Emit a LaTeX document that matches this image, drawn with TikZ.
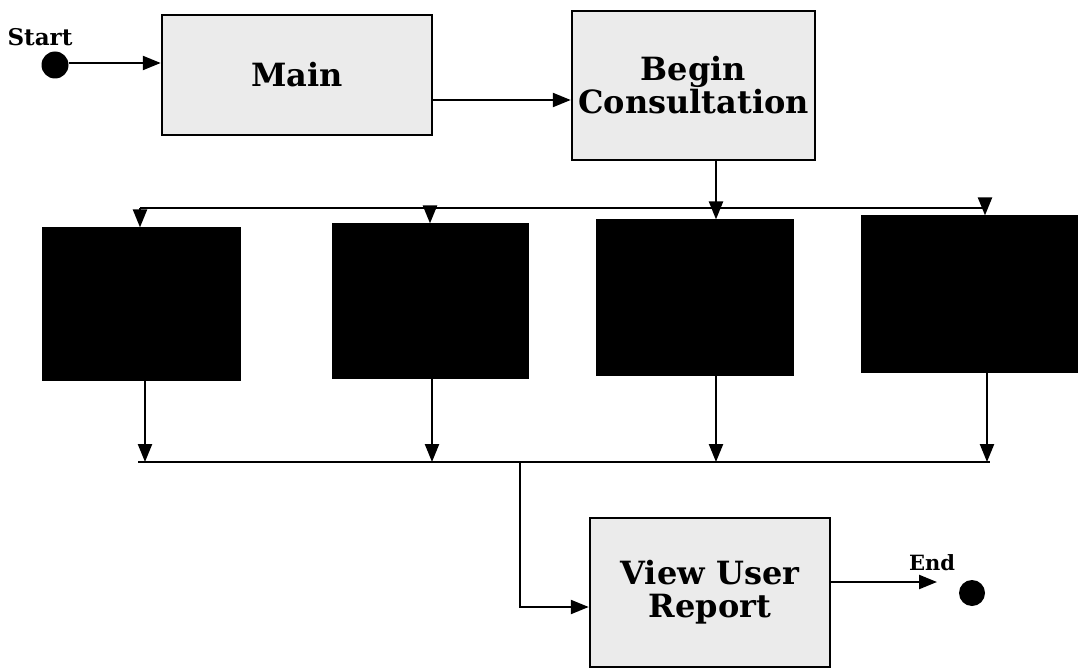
\documentclass[tikz,border=0pt]{standalone}
\usepackage{fontspec}
\setmainfont{DejaVu Serif}
\usetikzlibrary{arrows.meta,calc}
\begin{document}
\begin{tikzpicture}[x=1pt,y=-1pt,
  gbox/.style={draw=black,line width=2.5pt,fill=gray!16,align=center,inner sep=0pt,
     font=\bfseries\fontsize{32}{33}\selectfont},
  kbox/.style={draw=black,line width=1.2pt,fill=black,inner sep=0pt},
  conn/.style={line width=2.3pt,draw=black},
  arr/.style={conn,-{Triangle[length=18pt,width=14pt]}},
  lbl/.style={font=\bfseries\fontsize{23}{26}\selectfont,inner sep=0pt},
  dot/.style={circle,fill=black,inner sep=0pt,minimum size=27pt}]
\useasboundingbox (0,0) rectangle (1080,669);
% top boxes
\node[gbox,minimum width=270pt,minimum height=120pt] (main) at (297,75) {Main};
\node[gbox,minimum width=243pt,minimum height=149pt] (begin) at (693.5,85.5) {Begin\\Consultation};
% black boxes
\node[kbox,minimum width=197pt,minimum height=152pt] (b1) at (141.5,304) {};
\node[kbox,minimum width=195pt,minimum height=154pt] (b2) at (430.5,301) {};
\node[kbox,minimum width=196pt,minimum height=155pt] (b3) at (695,297.5) {};
\node[kbox,minimum width=215pt,minimum height=156pt] (b4) at (969.5,294) {};
% report
\node[gbox,minimum width=240pt,minimum height=149pt] (report) at (710,592.5) {View User\\Report};
% start / end
\node[dot] (sdot) at (55,65) {};
\node[lbl] (slbl) at (40,37) {Start};
\node[dot,minimum size=26pt] (edot) at (972,593) {};
\node[lbl,font=\bfseries\fontsize{21}{24}\selectfont] (elbl) at (932,563) {End};
% coordinates
\coordinate (sa) at (68,63);
\coordinate (ma) at (432,100);
\coordinate (jt) at (716,208);
\coordinate (tl) at (140,208);
\coordinate (t2) at (430,208);
\coordinate (tr) at (985,208);
\coordinate (u1) at (145,462);
\coordinate (u2) at (432,462);
\coordinate (u3) at (716,462);
\coordinate (u4) at (987,462);
\coordinate (ul) at (138,462);
\coordinate (ur) at (990,462);
\coordinate (jb) at (520,462);
\coordinate (rb) at (520,607);
\coordinate (ea) at (937,582);
% connectors
\draw[arr] (sdot.east |- sa) -- (main.west |- sa);
\draw[arr] (ma) -- (begin.west |- ma);
\draw[conn] (begin.south -| jt) -- (jt);
\draw[conn] (tl) -- (tr);
\draw[arr] (tl) -- (b1.north -| tl);
\draw[arr] (t2) -- (b2.north -| t2);
\draw[arr] (jt) -- (b3.north -| jt);
\draw[arr] (tr) -- (b4.north -| tr);
\draw[arr] (b1.south -| u1) -- (u1);
\draw[arr] (b2.south -| u2) -- (u2);
\draw[arr] (b3.south -| u3) -- (u3);
\draw[arr] (b4.south -| u4) -- (u4);
\draw[conn] (ul) -- (ur);
\draw[arr] (jb) -- (rb) -- (report.west |- rb);
\draw[arr] (report.east |- ea) -- (ea);
\end{tikzpicture}
\end{document}
